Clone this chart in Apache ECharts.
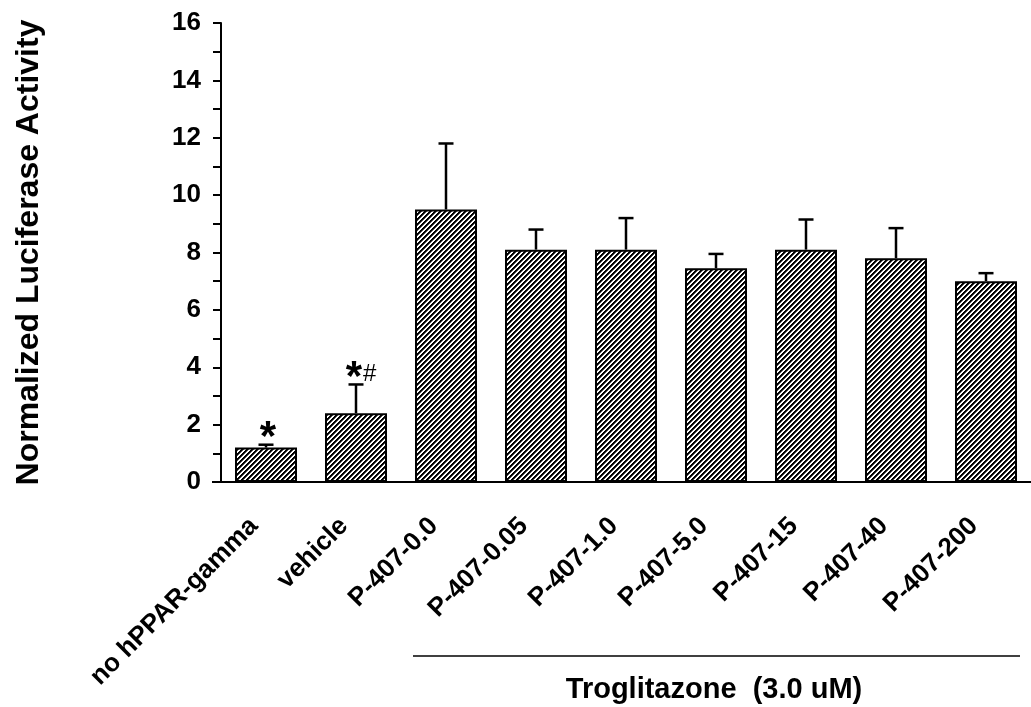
<!DOCTYPE html>
<html>
<head>
<meta charset="utf-8">
<script src="https://cdn.jsdelivr.net/npm/echarts@6/dist/echarts.min.js"></script>
<style>
html,body{margin:0;padding:0;background:#fff;}
#chart{width:1031px;height:707px;}
</style>
</head>
<body>
<div id="chart"></div>
<script>
var categories = ['no hPPAR-gamma', 'vehicle', 'P-407-0.0', 'P-407-0.05', 'P-407-1.0', 'P-407-5.0', 'P-407-15', 'P-407-40', 'P-407-200'];
var values = [1.2, 2.4, 9.5, 8.1, 8.1, 7.45, 8.1, 7.8, 7.0];
var errors = [0.1, 1.0, 2.3, 0.7, 1.1, 0.5, 1.05, 1.05, 0.28];
var marks = ['{s|*}', '{s|*}{h|#}', '', '', '', '', '', '', ''];
var yTicks = [0, 2, 4, 6, 8, 10, 12, 14, 16];
var yTitle = 'Normalized Luciferase Activity';
var groupTitle = 'Troglitazone  (3.0 uM)';

var FONT = '"Liberation Sans", Arial, Helvetica, sans-serif';

function makeHatch() {
  var s = 5;
  var c = document.createElement('canvas');
  c.width = s; c.height = s;
  var g = c.getContext('2d');
  var img = g.createImageData(s, s);
  for (var y = 0; y < s; y++) {
    for (var x = 0; x < s; x++) {
      var k = (x + y) % s;
      var v = (k === 0 || k === 1) ? 0 : (k === 2 ? 70 : 255);
      var p = (y * s + x) * 4;
      img.data[p] = v; img.data[p + 1] = v; img.data[p + 2] = v; img.data[p + 3] = 255;
    }
  }
  g.putImageData(img, 0, 0);
  return c;
}

var chart = echarts.init(document.getElementById('chart'), null, {renderer: 'canvas'});

var errData = values.map(function (v, i) { return [i, v, errors[i]]; });

var option = {
  backgroundColor: '#fff',
  animation: false,
  grid: {left: 221, top: 23, width: 819, height: 459, containLabel: false},
  xAxis: {
    type: 'category',
    data: categories,
    boundaryGap: true,
    axisLine: {show: true, lineStyle: {color: '#000', width: 2}},
    axisTick: {show: false},
    axisLabel: {
      interval: 0, rotate: 45, margin: 28, padding: [0, 17, 0, 0],
      color: '#000', fontFamily: FONT, fontWeight: 'bold', fontSize: 26
    },
    splitLine: {show: false}
  },
  yAxis: {
    type: 'value',
    min: 0, max: 16, interval: 2,
    name: yTitle,
    nameLocation: 'middle',
    nameRotate: 90,
    nameGap: 176,
    nameTextStyle: {color: '#000', fontFamily: FONT, fontWeight: 'bold', fontSize: 32},
    axisLine: {show: true, lineStyle: {color: '#000', width: 2}},
    axisTick: {show: true, inside: false, length: 8, lineStyle: {color: '#000', width: 2}},
    minorTick: {show: true, splitNumber: 2, length: 8, lineStyle: {color: '#000', width: 2}},
    axisLabel: {
      margin: 20, color: '#000', fontFamily: FONT, fontWeight: 'bold', fontSize: 26,
      formatter: function (v) { return yTicks.indexOf(v) >= 0 ? String(v) : ''; }
    },
    splitLine: {show: false}
  },
  series: [
    {
      type: 'bar',
      data: values,
      barWidth: 62,
      itemStyle: {color: {image: makeHatch(), repeat: 'repeat'}, borderColor: '#000', borderWidth: 2},
      z: 2
    },
    {
      type: 'custom',
      data: errData,
      z: 3,
      renderItem: function (params, api) {
        var i = api.value(0), v = api.value(1), e = api.value(2);
        var base = api.coord([i, v]);
        var top = api.coord([i, v + e]);
        var half = 7.5;
        var children = [
          {type: 'line', shape: {x1: base[0], y1: base[1], x2: top[0], y2: top[1]}, style: {stroke: '#000', lineWidth: 2.5}},
          {type: 'line', shape: {x1: top[0] - half, y1: top[1], x2: top[0] + half, y2: top[1]}, style: {stroke: '#000', lineWidth: 2.5}}
        ];
        var m = marks[params.dataIndex];
        if (m) {
          children.push({
            type: 'text',
            style: {
              text: m, x: top[0] + (m.indexOf('#') >= 0 ? 5 : 2), y: top[1] - 6,
              align: 'center', verticalAlign: 'middle',
              rich: {
                s: {fontFamily: FONT, fontWeight: 'bold', fontSize: 42, fill: '#000', verticalAlign: 'middle'},
                h: {fontFamily: FONT, fontWeight: 'normal', fontSize: 24, fill: '#000', verticalAlign: 'middle', padding: [0, 0, 8, 1]}
              }
            }
          });
        }
        return {type: 'group', children: children};
      }
    }
  ],
  graphic: [
    {type: 'line', shape: {x1: 212, y1: 482, x2: 221, y2: 482}, style: {stroke: '#000', lineWidth: 2}},
    {type: 'line', shape: {x1: 413, y1: 656, x2: 1020, y2: 656}, style: {stroke: '#000', lineWidth: 1.5}},
    {type: 'text', x: 714, y: 690, style: {text: groupTitle, align: 'center', verticalAlign: 'middle', fontFamily: FONT, fontWeight: 'bold', fontSize: 29, fill: '#000'}}
  ]
};
chart.setOption(option);
</script>
</body>
</html>
